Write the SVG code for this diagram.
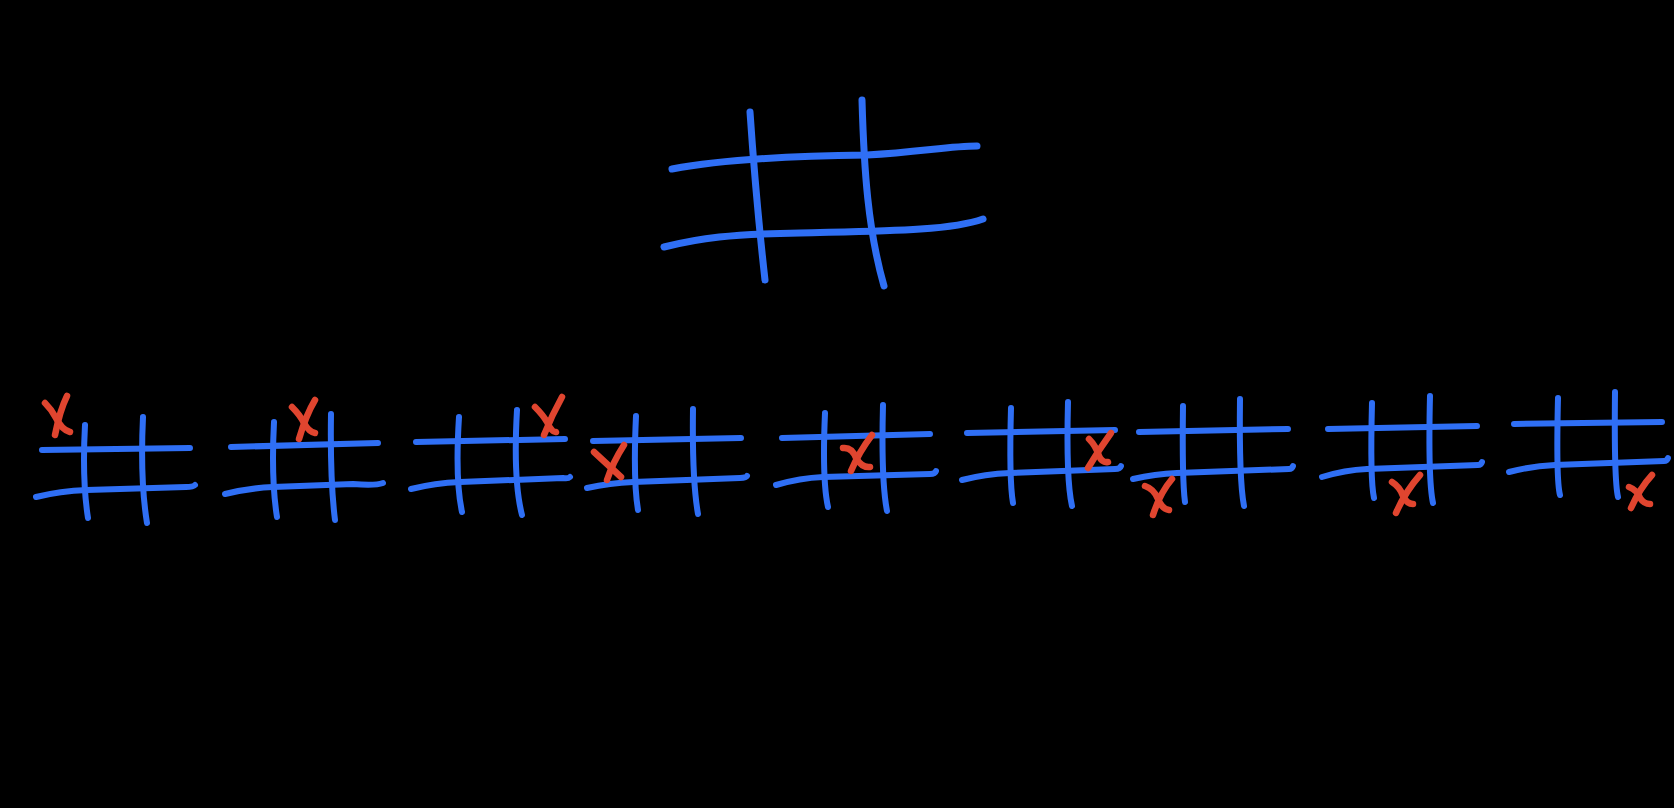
<svg xmlns="http://www.w3.org/2000/svg" width="1674" height="808" viewBox="0 0 1674 808">
<style>
.b{fill:none;stroke:#2f6ff5;stroke-width:6;stroke-linecap:round;stroke-linejoin:round}
.bb{stroke-width:7}
.r{fill:none;stroke:#e0452f;stroke-width:6.5;stroke-linecap:round;stroke-linejoin:round}
</style>
<rect width="1674" height="808" fill="#000"/>
<g id="board-main">
<path class="b bb" d="M750,112 Q756,200 765,280"/>
<path class="b bb" d="M862,100 C864,170 868,230 884,286"/>
<path class="b bb" d="M672,169 C720,160 780,156 867,155 C920,152 950,146 977,146"/>
<path class="b bb" d="M664,247 C700,238 730,234 800,233 C880,231 950,231 983,219"/>
</g>
<g id="board-1">
<path class="b" d="M42,450 L190,448"/>
<path class="b" d="M36,497 Q60,491 87,490 L186,487 Q193,487 195,485"/>
<path class="b" d="M85,425 Q82,480 88,518"/>
<path class="b" d="M143,417 Q140,480 147,523"/>
<path class="r" d="M45,403 Q52,410 56,418 Q62,430 70,432"/>
<path class="r" d="M67,396 Q60,410 55,435"/>
</g>
<g id="board-2">
<path class="b" d="M231,447 L378,443"/>
<path class="b" d="M225,494 Q250,488 273,487 L353,484 Q375,486 383,483"/>
<path class="b" d="M274,422 Q271,480 277,517"/>
<path class="b" d="M331,414 Q330,480 335,520"/>
<path class="r" d="M292,407 Q300,415 304,423 Q309,432 315,433"/>
<path class="r" d="M315,400 Q306,415 299,439"/>
</g>
<g id="board-3">
<path class="b" d="M416,442 L565,439"/>
<path class="b" d="M411,489 Q435,483 460,482 L563,478 Q568,479 570,477"/>
<path class="b" d="M459,417 Q455,480 462,512"/>
<path class="b" d="M517,410 Q513,480 522,515"/>
<path class="r" d="M535,407 Q543,415 547,422 Q552,433 556,432"/>
<path class="r" d="M562,397 Q552,415 544,435"/>
</g>
<g id="board-4">
<path class="b" d="M593,441 L741,438"/>
<path class="b" d="M587,488 Q610,483 633,482 L740,478 Q746,478 747,476"/>
<path class="b" d="M636,416 Q633,480 638,510"/>
<path class="b" d="M693,409 Q692,480 698,514"/>
<path class="r" d="M594,452 L621,477"/>
<path class="r" d="M624,445 Q613,462 607,480"/>
</g>
<g id="board-5">
<path class="b" d="M782,438 L930,434"/>
<path class="b" d="M776,485 Q800,478 823,477 L930,474 Q935,474 936,471"/>
<path class="b" d="M825,413 Q822,480 828,507"/>
<path class="b" d="M883,405 Q881,480 887,511"/>
<path class="r" d="M843,448 Q852,447 856,458 Q862,468 870,467"/>
<path class="r" d="M872,435 Q859,452 851,471"/>
</g>
<g id="board-6">
<path class="b" d="M967,433 L1115,430"/>
<path class="b" d="M962,480 Q985,474 1010,473 L1115,469 Q1120,469 1121,466"/>
<path class="b" d="M1011,408 Q1009,480 1013,503"/>
<path class="b" d="M1068,402 Q1066,480 1072,506"/>
<path class="r" d="M1089,439 Q1096,446 1099,456 Q1102,463 1108,462"/>
<path class="r" d="M1111,433 Q1098,451 1088,468"/>
</g>
<g id="board-7">
<path class="b" d="M1139,432 L1288,429"/>
<path class="b" d="M1133,479 Q1155,474 1177,473 L1289,469 Q1292,469 1293,466"/>
<path class="b" d="M1183,406 Q1182,480 1185,502"/>
<path class="b" d="M1240,399 Q1239,480 1244,506"/>
<path class="r" d="M1145,486 Q1154,489 1158,499 Q1162,509 1169,510"/>
<path class="r" d="M1172,479 Q1160,493 1153,515"/>
</g>
<g id="board-8">
<path class="b" d="M1328,429 L1477,426"/>
<path class="b" d="M1322,477 Q1345,470 1367,469 L1478,465 Q1481,465 1482,462"/>
<path class="b" d="M1372,403 Q1370,480 1374,498"/>
<path class="b" d="M1430,396 Q1428,480 1433,503"/>
<path class="r" d="M1392,482 Q1400,487 1403,496 Q1407,504 1413,504"/>
<path class="r" d="M1420,475 Q1405,492 1396,513"/>
</g>
<g id="board-9">
<path class="b" d="M1514,424 L1662,422"/>
<path class="b" d="M1509,472 Q1532,466 1555,465 L1664,461 Q1667,461 1668,458"/>
<path class="b" d="M1558,398 Q1556,480 1560,495"/>
<path class="b" d="M1615,392 Q1614,480 1618,497"/>
<path class="r" d="M1629,487 Q1637,490 1640,498 Q1644,504 1650,504"/>
<path class="r" d="M1652,475 Q1640,488 1631,508"/>
</g>
</svg>
